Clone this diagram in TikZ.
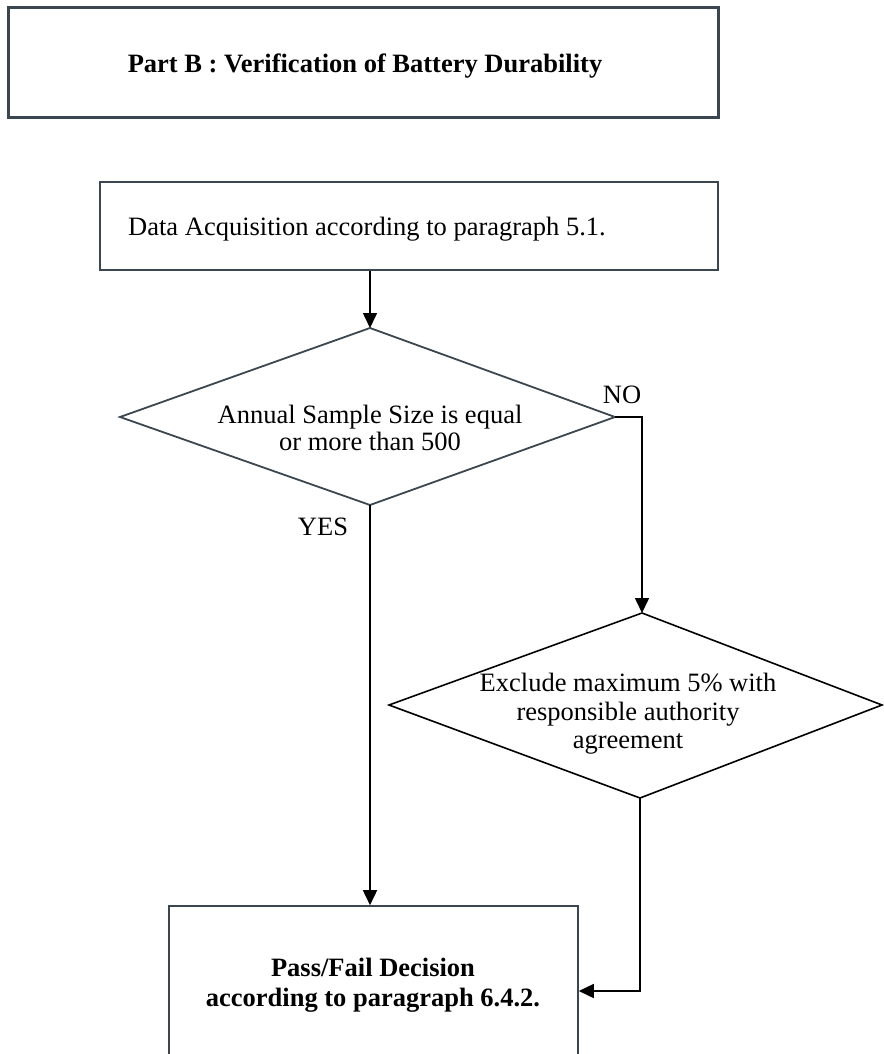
\documentclass[tikz,border=0pt]{standalone}
\usepackage{fontspec}
\setmainfont{Liberation Serif}
\usetikzlibrary{arrows.meta}
\definecolor{slate}{HTML}{3A4750}
\begin{document}
\begin{tikzpicture}[x=1pt,y=-1pt,
  boxline/.style={draw=slate, line width=1.6pt, inner sep=0pt},
  txt/.style={font=\fontsize{26.5}{27.5}\selectfont, inner sep=0pt, align=center},
  btxt/.style={font=\fontsize{26.5}{30}\selectfont\bfseries, inner sep=0pt, align=center},
  conn/.style={draw=black, line width=1.6pt, -{Triangle[length=15pt,width=14pt]}},
]
\useasboundingbox (0,0) rectangle (883,1054);
% title box
\node[draw=slate, line width=3pt, minimum width=710pt, minimum height=110pt, inner sep=0pt] (title) at (363,63) {};
\node[btxt] (titletext) at (365,66) {Part B : Verification of Battery Durability};
% data box
\node[boxline, minimum width=618pt, minimum height=88pt] (data) at (409,226) {};
\node[txt] (datatext) at (367,229) {Data Acquisition according to paragraph 5.1.};
% diamond 1
\coordinate (d1t) at (370,328);
\coordinate (d1l) at (120,417);
\coordinate (d1r) at (615,417);
\coordinate (d1b) at (370,505);
\draw[draw=slate, line width=1.8pt, line join=miter] (d1t) -- (d1r) -- (d1b) -- (d1l) -- cycle;
\node[txt] (d1text) at (370,428) {Annual Sample Size is equal\\or more than 500};
% diamond 2
\coordinate (d2t) at (642,613);
\coordinate (d2l) at (389,705);
\coordinate (d2r) at (882,705);
\coordinate (d2b) at (640,798);
\draw[draw=black, line width=1.6pt, line join=miter] (d2t) -- (d2r) -- (d2b) -- (d2l) -- cycle;
\node[txt, font=\fontsize{26.5}{28.5}\selectfont] (d2text) at (628,714) {Exclude maximum 5\% with\\responsible authority\\agreement};
% pass/fail box
\node[boxline, minimum width=409pt, minimum height=170pt] (pf) at (373.5,991) {};
\node[btxt] (pftext) at (373,985) {Pass/Fail Decision\\according to paragraph 6.4.2.};
% labels
\node[txt] (no) at (622,395) {NO};
\node[txt] (yes) at (323,527) {YES};
% connectors
\draw[conn] (d1t |- data.south) -- (d1t);
\draw[conn] (d1r) -| (d2t);
\draw[conn] (d1b) -- (d1b |- pf.north);
\draw[conn] (d2b) |- (pf.east);
\end{tikzpicture}
\end{document}
